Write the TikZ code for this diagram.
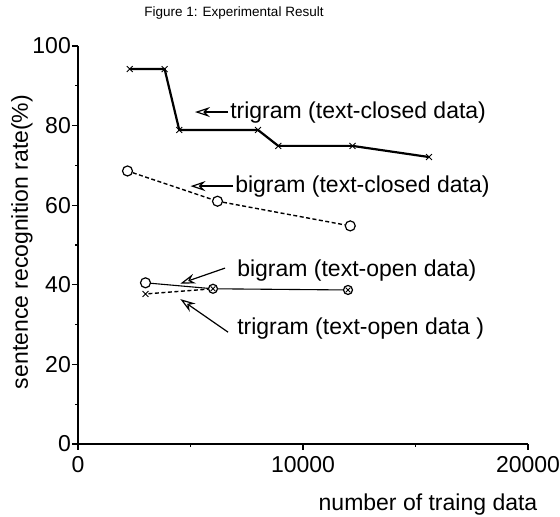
\documentclass[tikz,border=0pt]{standalone}
\usepackage{fontspec}
\setmainfont{Liberation Sans}
\usetikzlibrary{arrows.meta,shapes.misc}

\begin{document}
\begin{tikzpicture}[x=22.5pt,y=3.98pt,
  txt/.style={font=\fontsize{23}{27}\selectfont,inner sep=0pt},
  axisline/.style={line width=1.1pt},
  xmk/.style={cross out,draw,line width=0.9pt,inner sep=0pt,minimum size=5pt},
  omk/.style={circle,draw,line width=1.2pt,fill=white,inner sep=0pt,minimum size=10pt},
  otk/.style={circle,draw,line width=1.2pt,fill=white,inner sep=0pt,minimum size=9pt},
  xin/.style={cross out,draw,line width=0.8pt,inner sep=0pt,minimum size=4pt},
  thick line/.style={line width=2.2pt},
  thin line/.style={line width=1.1pt},
  dash line/.style={line width=1.4pt,dash pattern=on 4pt off 2.5pt},
  pointer/.style={line width=1.2pt,-{Stealth[open,length=15pt,width=10pt,inset=5pt]}}]
\useasboundingbox (-78pt,-73pt) rectangle (482pt,444pt);
% axes
\draw[axisline] (0,100) -- (0,0) -- (20,0);
\foreach \y/\l in {0/0,20/20,40/40,60/60,80/80,100/100} {
   \draw[axisline] (0,\y) -- ++(-6pt,0);
   \node[txt,anchor=east] (yl\y) at ([xshift=-7pt]0,\y) {\l};
}
\foreach \y in {10,30,50,70,90} {
   \draw[thin line] (0,\y) -- ++(-3pt,0);
}
\foreach \x/\l in {0/0,10/10000,20/20000} {
   \draw[axisline] (\x,0) -- ++(0,-6pt);
   \node[txt,anchor=north] (xl\x) at ([yshift=-12pt]\x,0) {\l};
}
\foreach \x in {5,15} {
   \draw[thin line] (\x,0) -- ++(0,-3pt);
}
\node[font=\fontsize{13.5}{15}\selectfont] (title) at (156pt,431pt) {Figure 1: Experimental Result};
\node[txt,rotate=90] (ylab) at (-56pt,202pt) {sentence recognition rate(\%)};
\node[txt] (xlab) at (350pt,-61pt) {number of traing data};
% trigram (text-closed)
\foreach \i/\x/\y in {1/2.3/94.2,2/3.85/94.2,3/4.5/78.9,4/8.0/78.9,5/8.9/74.9,6/12.2/74.9,7/15.6/72.1} {
   \coordinate (t\i) at (\x,\y);
}
\draw[thick line] (t1) -- (t2) -- (t3) -- (t4) -- (t5) -- (t6) -- (t7);
\foreach \i in {1,...,7} {
   \node[xmk] (tm\i) at (t\i) {};
}
% bigram (text-closed)
\node[omk] (b1) at (2.2,68.6) {};
\node[omk] (b2) at (6.2,61) {};
\node[omk] (b3) at (12.1,54.8) {};
\draw[dash line] (b1) -- (b2) -- (b3);
% text-open data
\node[omk] (bo1) at (3.0,40.5) {};
\node[xmk] (to1) at (3.0,37.7) {};
\node[otk] (c1) at (6.0,39) {};
\node[otk] (c2) at (12.0,38.7) {};
\node[xin] (c1x) at (c1) {};
\node[xin] (c2x) at (c2) {};
\draw[thin line] (bo1) -- (c1) -- (c2);
\draw[dash line] (to1) -- (c1);
% labels
\node[txt,anchor=west] (tclab) at (6.76,83.4) {trigram (text-closed data)};
\node[txt,anchor=west] (bclab) at (6.98,64.8) {bigram (text-closed data)};
\node[txt,anchor=west] (bolab) at (7.07,43.7) {bigram (text-open data)};
\node[txt,anchor=west] (tolab) at (7.07,29.1) {trigram (text-open data )};
\coordinate (tca) at (5.2,83.4);
\coordinate (bca) at (5.0,64.8);
\coordinate (boa) at (4.55,40.3);
\coordinate (toa) at (4.55,36.4);
\draw[pointer] ([xshift=-2pt]tclab.west) -- (tca);
\draw[pointer] ([xshift=-2pt]bclab.west) -- (bca);
\draw[pointer] ([xshift=-12pt,yshift=2pt]bolab.west) -- (boa);
\draw[pointer] ([xshift=-9pt,yshift=-4pt]tolab.west) -- (toa);
\end{tikzpicture}
\end{document}
